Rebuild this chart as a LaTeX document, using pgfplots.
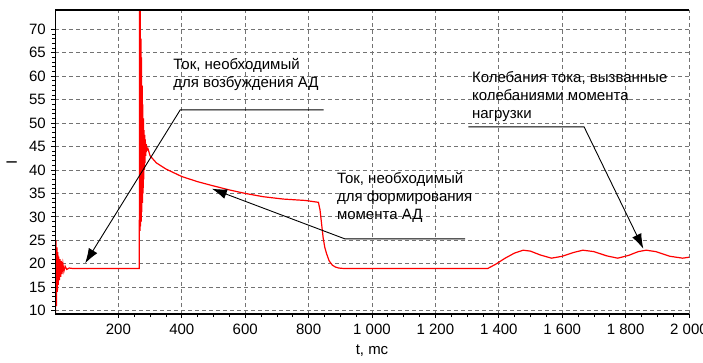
\documentclass[border=0pt]{standalone}
\usepackage{fontspec}
\setmainfont{Liberation Sans}
\usepackage{pgfplots}
\pgfplotsset{compat=1.18}
\usetikzlibrary{arrows.meta}
\begin{document}
\fontsize{15bp}{18bp}\selectfont
\begin{tikzpicture}
\useasboundingbox (0,0) rectangle (703bp,363bp);
\begin{axis}[
  at={(55bp,49bp)}, anchor=south west,
  scale only axis, width=634bp, height=304bp,
  xmin=0, xmax=2000, ymin=9.3, ymax=74.1,
  xtick={200,400,...,2000}, minor x tick num=3,
  ytick={10,15,...,70}, minor y tick num=4,
  xtick pos=left, ytick pos=left,
  tick align=outside,
  major tick length=4bp, minor tick length=3bp,
  tick style={black, line width=0.8bp},
  grid=major,
  major grid style={black!55, dash pattern=on 4bp off 3bp, line width=0.8bp},
  axis line style={draw=none},
  /pgf/number format/assume math mode=true,
  /pgf/number format/1000 sep={\ },
  xlabel={t, mc}, ylabel={I},
  xticklabel style={yshift=-1bp},
  ylabel style={yshift=2bp},
]
\addplot[red, line width=1.2bp] coordinates {
(0,26.5)(1.5,8)(3,25)(4.5,11)(6,23.5)(7.5,14)(9,22.5)(10.5,15.5)(12,21.5)(14,16.5)(16,21)(18,17.2)(20,20.6)(22,17.8)(25,20)(28,18.4)(32,19.5)(37,18.8)(45,19.1)(55,19)
(266,19)(266.5,80)(268,27)(269,74)(270,28)(271,68)(272,29)(273,64)(274,31)(275,58)(276,33)(277,54)(278,35)(279,51)(280,38)(281,48.5)(282,40)(283,47.5)(284,41.5)(285,46.5)(286,43)(288,45.5)(290,44.2)(293,44.6)
(300,43.0)(320,41.5)(350,40.2)(400,38.6)(450,37.5)(500,36.6)(553,35.7)(600,35)(657,34.3)(720,33.8)(790,33.5)(831,33.1)
(836,31.5)(841,28.5)(846,25.5)(851,23.5)(857,22.1)(865,20.6)(875,19.7)(885,19.3)(895,19.1)(910,19)
(1365,19)(1390,19.9)(1420,21.2)(1450,22.3)(1477,22.9)(1500,22.7)(1530,21.9)(1566,21.2)(1600,21.6)(1635,22.4)(1665,22.9)(1700,22.6)(1740,21.7)(1775,21.2)(1810,21.8)(1840,22.6)(1865,22.9)(1895,22.6)(1940,21.6)(1980,21.2)(2000,21.4)
};
% annotation 1
\draw[black, line width=0.9bp, -{Latex[length=15bp,width=10bp]}] (axis cs:847,52.8) -- (axis cs:395,52.8) -- (axis cs:95,20.1);
\node[anchor=west, align=left, inner sep=0pt] at (axis cs:373,60.25) {Ток, необходимый\\для возбуждения АД};
% annotation 2
\draw[black, line width=0.9bp, -{Latex[length=15bp,width=10bp]}] (axis cs:1294,25.3) -- (axis cs:915,25.3) -- (axis cs:495,36);
\node[anchor=west, align=left, inner sep=0pt] at (axis cs:889,34.1) {Ток, необходимый\\для формирования\\момента АД};
% annotation 3
\draw[black, line width=0.9bp, -{Latex[length=15bp,width=10bp]}] (axis cs:1304,49.2) -- (axis cs:1669,49.2) -- (axis cs:1856,23.2);
\node[anchor=west, align=left, inner sep=0pt] at (axis cs:1315,55.6) {Колебания тока, вызванные\\колебаниями момента\\нагрузки};
% frame
\draw[black, line width=1.8bp] (rel axis cs:1,1) -- (rel axis cs:0,1) -- (rel axis cs:0,0) -- (rel axis cs:1,0);
\end{axis}
\end{tikzpicture}
\end{document}
